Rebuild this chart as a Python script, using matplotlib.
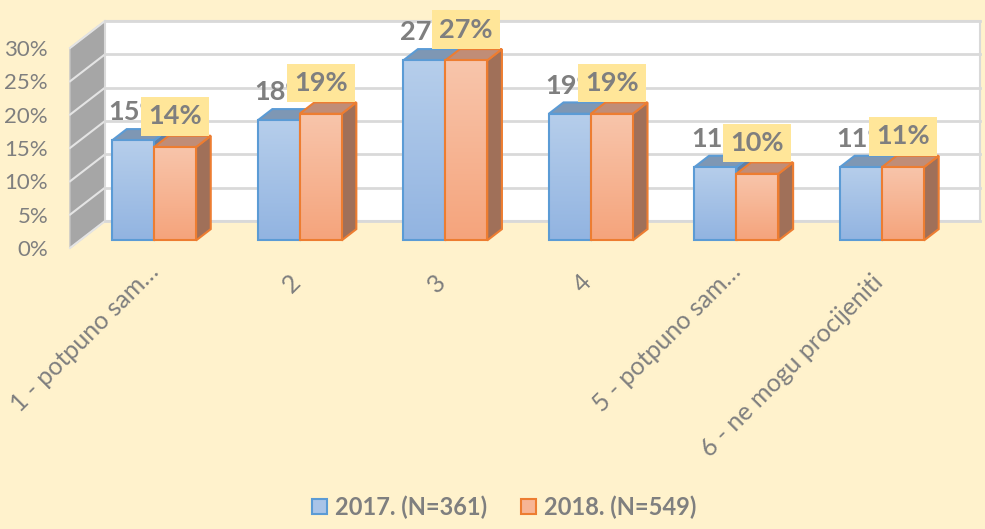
import matplotlib
matplotlib.use("Agg")
import matplotlib.pyplot as plt
import numpy as np
from matplotlib.patches import Polygon, Patch
from matplotlib.colors import LinearSegmentedColormap
from matplotlib.transforms import ScaledTranslation

categories = ['1 - potpuno sam…', '2', '3', '4', '5 - potpuno sam…', '6 - ne mogu procijeniti']
series_names = ['2017. (N=361)', '2018. (N=549)']
y2017 = [15, 18, 27, 19, 11, 11]
y2018 = [14, 19, 27, 19, 10, 11]
yticks = [0, 5, 10, 15, 20, 25, 30]

BG = '#fff2cc'
GRAY = '#7f7f7f'
plt.rcParams['font.family'] = ['Lato', 'DejaVu Sans']

W, H = 985, 529
fig = plt.figure(figsize=(W / 100, H / 100), dpi=100, facecolor=BG)
ax = fig.add_axes([70 / W, (H - 248) / H, 875 / W, 200 / H])
ax.set_facecolor('none')
XL, XR = -0.51, 5.50
YMAX = 30
ax.set_xlim(XL, XR)
ax.set_ylim(0, YMAX)

# oblique depth projection (data units per unit of depth)
DX = 35 / (875 / (XR - XL))
DY = 27 / (200 / YMAX)


def P(x, y, z):
    return (x + z * DX, y + z * DY)


# side wall
side = Polygon([P(XL, 0, 0), P(XL, YMAX, 0), P(XL, YMAX, 1), P(XL, 0, 1)],
               closed=True, facecolor='#a6a6a6', edgecolor='#c4c4c4', lw=1, zorder=1, clip_on=False)
ax.add_patch(side)
for t in yticks:
    a, b = P(XL, t, 0), P(XL, t, 1)
    ax.plot([a[0], b[0]], [a[1], b[1]], color='#e4e4e4', lw=1.5, zorder=2, clip_on=False)

# back wall
back = Polygon([P(XL, 0, 1), P(XR, 0, 1), P(XR, YMAX, 1), P(XL, YMAX, 1)],
               closed=True, facecolor='white', edgecolor='#d9d9d9', lw=1.5, zorder=1, clip_on=False)
ax.add_patch(back)
for t in yticks:
    a, b = P(XL, t, 1), P(XR, t, 1)
    ax.plot([a[0], b[0]], [a[1], b[1]], color='#d9d9d9', lw=2, zorder=2, clip_on=False)

# bars
BW = 42 / (875 / (XR - XL))
Z1, Z2 = 0.28, 0.70
series = [
    dict(vals=y2017, off=-BW, top='#b6ceeb', bot='#92b4e1', edge='#5b9bd5', topf='#7e97b4', sidef='#5f7fa6'),
    dict(vals=y2018, off=0.0, top='#f8c5ab', bot='#f5a47c', edge='#ed7d31', topf='#c08d77', sidef='#a07059'),
]
xs = np.arange(len(categories))
zb = 5
for i in xs:
    for s in series:
        v = s['vals'][i]
        x0 = i + s['off']
        x1 = x0 + BW
        sf = Polygon([P(x1, 0, Z1), P(x1, v, Z1), P(x1, v, Z2), P(x1, 0, Z2)], closed=True,
                     facecolor=s['sidef'], edgecolor=s['edge'], lw=1.5, zorder=zb, clip_on=False)
        ax.add_patch(sf)
        tf = Polygon([P(x0, v, Z1), P(x1, v, Z1), P(x1, v, Z2), P(x0, v, Z2)], closed=True,
                     facecolor=s['topf'], edgecolor=s['edge'], lw=1.5, zorder=zb, clip_on=False)
        ax.add_patch(tf)
        fx0, fy0 = P(x0, 0, Z1)
        fx1, fy1 = P(x1, v, Z1)
        ff = Polygon([(fx0, fy0), (fx1, fy0), (fx1, fy1), (fx0, fy1)], closed=True,
                     facecolor='none', edgecolor=s['edge'], lw=1.5, zorder=zb + 0.2, clip_on=False)
        cmap = LinearSegmentedColormap.from_list('g', [s['bot'], s['top']])
        grad = np.linspace(1, 0, 64).reshape(-1, 1)
        im = ax.imshow(grad, cmap=cmap, extent=[fx0, fx1, fy0, fy1], aspect='auto',
                       zorder=zb + 0.1, interpolation='bilinear')
        ax.add_patch(ff)
        im.set_clip_path(ff)
        zb += 1

# data labels
for i in xs:
    v = y2017[i]
    lx, ly = P(i - BW / 2, v, Z1)
    ax.text(lx + 0.015, ly + 4.2, f'{v}%', ha='center', va='center', fontsize=19.5,
            fontweight='bold', color=GRAY, zorder=50, clip_on=False)
for i in xs:
    v = y2018[i]
    lx, ly = P(i + BW / 2, v, Z1)
    ax.text(lx, ly + 4.6, f'{v}%', ha='center', va='center', fontsize=19.5,
            fontweight='bold', color=GRAY, zorder=60, clip_on=False,
            bbox=dict(boxstyle='square,pad=0.27', facecolor='#ffe699', edgecolor='none'))

# category labels (text baseline ends just below the bar fronts)
for i, c in zip(xs, categories):
    bx, _ = P(i, 0, Z1)
    lift = 11 if c.endswith('…') else 0
    tr = ax.transData + ScaledTranslation((2 + (4 if lift else 0)) / 100, lift / 100, fig.dpi_scale_trans)
    ax.text(bx, -36 / (200 / YMAX), c, rotation=45, rotation_mode='anchor', ha='right',
            va='baseline', fontsize=18, color=GRAY, clip_on=False, transform=tr)

ax.set_yticks(yticks)
ax.set_yticklabels([f'{t}%' for t in yticks], fontsize=16, color=GRAY)
ax.tick_params(axis='y', length=0, pad=15.8)
ax.set_xticks([])
for sp in ax.spines.values():
    sp.set_visible(False)
ax.set_xlim(XL, XR)
ax.set_ylim(0, YMAX)

handles = [Patch(facecolor='#a9c4e8', edgecolor='#5b9bd5', lw=1.5),
           Patch(facecolor='#f7b595', edgecolor='#ed7d31', lw=1.5)]
leg = fig.legend(handles, series_names, loc='center', bbox_to_anchor=(504.5 / W, 22 / H),
                 ncol=2, frameon=False, handlelength=0.62, handleheight=0.62,
                 handletextpad=0.35, columnspacing=1.45,
                 prop=dict(family=['Lato', 'DejaVu Sans'], weight='bold', size=17))
for t in leg.get_texts():
    t.set_color(GRAY)

fig.savefig('out.png', dpi=100, facecolor=BG)
